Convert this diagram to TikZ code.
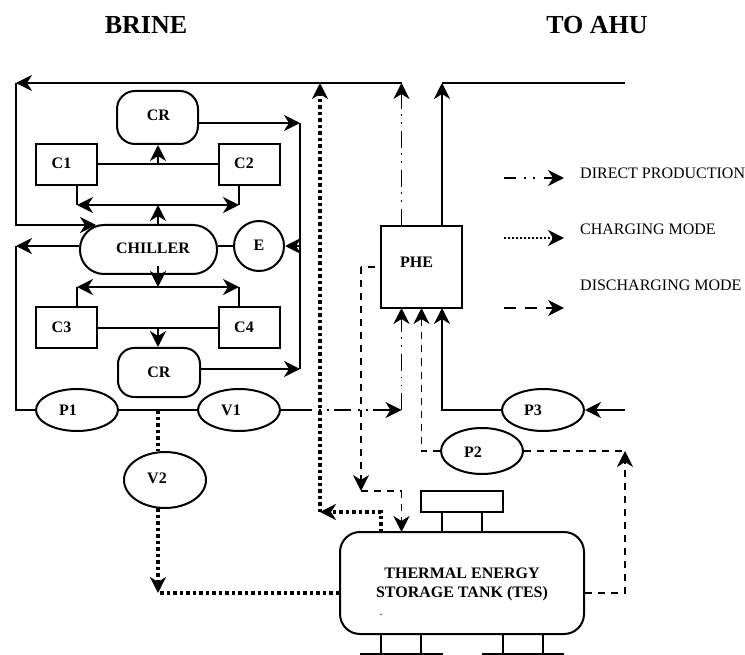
\documentclass[tikz,border=0pt]{standalone}
\usepackage{fontspec}
\setmainfont{Liberation Serif}
\usetikzlibrary{calc,arrows.meta,shapes.geometric}
\tikzset{
  tip/.style={-{Stealth[length=16pt,width=16pt,inset=5pt]}},
  both/.style={{Stealth[length=16pt,width=16pt,inset=5pt]}-{Stealth[length=16pt,width=16pt,inset=5pt]}},
  line/.style={line width=2pt},
  directline/.style={line width=1.5pt,dash pattern=on 17pt off 7pt on 1.5pt off 6.5pt on 1.5pt off 5.5pt},
  chargeline/.style={line width=3.5pt,dash pattern=on 3.5pt off 3pt},
  dischargeline/.style={line width=1.5pt,dash pattern=on 7pt off 6pt},
  box/.style={draw,line width=2pt,inner sep=0pt,font=\bfseries\fontsize{16}{19}\selectfont},
  tag/.style={font=\bfseries\fontsize{16}{19}\selectfont},
  legendtext/.style={anchor=west,inner sep=0pt,font=\fontsize{16}{19}\selectfont},
  title/.style={inner sep=0pt,font=\bfseries\fontsize{26}{30}\selectfont}
}
\begin{document}
\begin{tikzpicture}[x=1pt,y=-1pt]
  \useasboundingbox (0,0) rectangle (745,655);
  \node[title] (brine) at (146,25) {BRINE};
  \node[title] (ahu) at (597,25) {TO AHU};
  % chiller group
  \node[box,rounded corners=18pt,minimum width=81pt,minimum height=53pt,label={[tag,xshift=1pt,yshift=2pt]center:CR}] (cr1) at (157.5,117.5) {};
  \node[box,minimum width=61pt,minimum height=41pt,label={[tag,xshift=-5pt,yshift=1pt]center:C1}] (c1) at (66.5,164.5) {};
  \node[box,minimum width=61pt,minimum height=41pt,label={[tag,xshift=-5pt,yshift=1pt]center:C2}] (c2) at (249,164.5) {};
  \node[box,rounded corners=24pt,minimum width=137pt,minimum height=49pt,label={[tag,xshift=4.5pt,yshift=1pt]center:CHILLER}] (chiller) at (148.5,249.5) {};
  \node[box,circle,minimum size=50pt,label={[tag,yshift=1pt]center:E}] (e) at (259,246) {};
  \node[box,minimum width=61pt,minimum height=41pt,label={[tag,xshift=-5pt,yshift=1pt]center:C3}] (c3) at (66.5,328) {};
  \node[box,minimum width=61pt,minimum height=41pt,label={[tag,xshift=-5pt,yshift=1pt]center:C4}] (c4) at (249,328) {};
  \node[box,rounded corners=16pt,minimum width=82pt,minimum height=49pt] (cr2) at (159,372.5) {CR};
  \node[box,ellipse,minimum width=82pt,minimum height=42pt,label={[tag,xshift=-9pt]center:P1}] (p1) at (77,410) {};
  \node[box,ellipse,minimum width=82pt,minimum height=42pt,label={[tag,xshift=-8pt]center:V1}] (v1) at (239,410) {};
  \node[box,ellipse,minimum width=82pt,minimum height=56pt,label={[tag,xshift=-8pt,yshift=2pt]center:V2}] (v2) at (165,480) {};
  % heat exchanger and tank
  \node[box,minimum width=81pt,minimum height=82pt,label={[tag,xshift=-5pt,yshift=5pt]center:PHE}] (phe) at (421.5,267) {};
  \node[box,ellipse,minimum width=82pt,minimum height=42pt,label={[tag,xshift=-10pt]center:P3}] (p3) at (543,410) {};
  \node[box,ellipse,minimum width=82pt,minimum height=46pt,label={[tag,xshift=-9pt,yshift=-1pt]center:P2}] (p2) at (482,451) {};
  \node[box,rounded corners=20pt,minimum width=244pt,minimum height=102pt] (tes) at (462,583) {};
  \node[tag,inner sep=0pt,align=center] (teslabel) at (462,584) {THERMAL ENERGY\\STORAGE TANK (TES)};
  \node[inner sep=0pt,font=\fontsize{12}{14}\selectfont] (tesdot) at (381,615) {.};
  \node[box,minimum width=82pt,minimum height=21pt] (cap) at (462,501.5) {};
  % corner points
  \coordinate (lt) at (16,83);
  \coordinate (lm) at (16,225);
  \coordinate (chtop) at (96,225);
  \coordinate (ll) at (16,246);
  \coordinate (lb) at (16,410);
  \coordinate (rt) at (300,123);
  \coordinate (rb) at (300,369);
  \coordinate (re) at (300,246);
  \coordinate (mt) at (158,165);
  \coordinate (mu) at (158,205);
  \coordinate (ml) at (158,287);
  \coordinate (mb) at (158,328);
  \coordinate (dt) at (401.5,83);
  \coordinate (db) at (401.5,410);
  \coordinate (pt) at (442,83);
  \coordinate (pe) at (625,83);
  \coordinate (pb) at (442,410);
  \coordinate (pr) at (625,410);
  \coordinate (ct) at (320,83);
  \coordinate (cb) at (320,512);
  \coordinate (cu) at (381,512);
  \coordinate (vm) at (158,410);
  \coordinate (vb) at (158,593);
  \coordinate (dl) at (375,267);
  \coordinate (dk) at (361,267);
  \coordinate (dm) at (361,491);
  \coordinate (dn) at (401.5,491);
  \coordinate (hl) at (421.5,451);
  \coordinate (hr) at (625,451);
  \coordinate (tr) at (625,593);
  % main loop
  \draw[line,tip] (dt) -- (lt);
  \draw[line,tip] (lt) -- (lm) -- (chtop);
  \draw[line,tip] (cr1.east |- rt) -- (rt);
  \draw[line] (rt) -- (rb);
  \draw[line,tip] (cr2.east |- rb) -- (rb);
  \draw[line] (c1) -- (c2);
  \draw[line,tip] (mt) -- (mt |- cr1.south);
  \draw[line] (77,185) -- (77,205);
  \draw[line] (239,185) -- (239,205);
  \draw[line,both] (77,205) -- (239,205);
  \draw[line,tip] (mu |- chiller.north) -- (mu);
  \draw[line,tip] (chiller.west |- ll) -- (ll);
  \draw[line] (ll) -- (lb) -- (p1);
  \draw[line] (chiller.east |- e) -- (e);
  \draw[line,tip] (re) -- (e);
  \draw[line,tip] (158,266) -- (ml);
  \draw[line] (77,307) -- (77,287);
  \draw[line] (239,307) -- (239,287);
  \draw[line,both] (77,287) -- (239,287);
  \draw[line] (c3) -- (c4);
  \draw[line,tip] (mb) -- (mb |- cr2.north);
  \draw[line] (p1) -- (v1);
  \draw[line] (v1.east) -- (295,410);
  % direct production
  \draw[directline,tip] (295,410) -- (db);
  \draw[directline,tip] (db) -- (401.5,308);
  \draw[directline,tip] (401.5,226) -- (dt);
  % secondary side
  \draw[line,tip] (442,226) -- (pt);
  \draw[line width=1.5pt] (pt) -- (pe);
  \draw[line,tip] (p3) -- (pb) -- (442,308);
  \draw[line,tip] (pr) -- (p3);
  % charging
  \draw[chargeline] (vm) -- (v2.north -| vm);
  \draw[chargeline,tip] (158,508) -- (vb);
  \draw[chargeline] (tes.west |- vb) -- (vb);
  \draw[chargeline,tip] (cb) -- (ct);
  \draw[chargeline,tip] (381,532) -- (cu) -- (cb);
  % discharging
  \draw[dischargeline] (dl) -- (dk);
  \draw[dischargeline,tip] (dk) -- (dm);
  \draw[dischargeline] (dm) -- (dn);
  \draw[dischargeline,tip] (dn) -- (401.5,532);
  \draw[dischargeline,tip] (p2.west) -- (hl) -- (421.5,308);
  \draw[dischargeline] (p2.east) -- (hr);
  \draw[dischargeline,tip] (tes.east |- tr) -- (tr) -- (hr);
  % tank legs
  \draw[line] (442,512) -- (442,532);
  \draw[line] (482,512) -- (482,532);
  \draw[line] (381,634) -- (381,654);
  \draw[line] (421,634) -- (421,654);
  \draw[line] (503,634) -- (503,654);
  \draw[line] (543,634) -- (543,654);
  \draw[line] (360,654) -- (443,654);
  \draw[line] (482,654) -- (564,654);
  % legend
  \coordinate (k1) at (504,178);
  \coordinate (k1e) at (564,178);
  \coordinate (k2) at (504,238);
  \coordinate (k2e) at (564,238);
  \coordinate (k3) at (504,308);
  \coordinate (k3e) at (564,308);
  \draw[line width=2pt,dash pattern=on 12pt off 8pt on 2pt off 7pt on 2pt off 9pt,tip] (k1) -- (k1e);
  \draw[line width=2pt,dash pattern=on 2pt off 2pt,tip] (k2) -- (k2e);
  \draw[line width=1.5pt,dash pattern=on 12pt off 9pt,tip] (k3) -- (k3e);
  \node[legendtext] (k1t) at (580,173) {DIRECT PRODUCTION};
  \node[legendtext] (k2t) at (580,229) {CHARGING MODE};
  \node[legendtext] (k3t) at (580,285) {DISCHARGING MODE};
\end{tikzpicture}
\end{document}
